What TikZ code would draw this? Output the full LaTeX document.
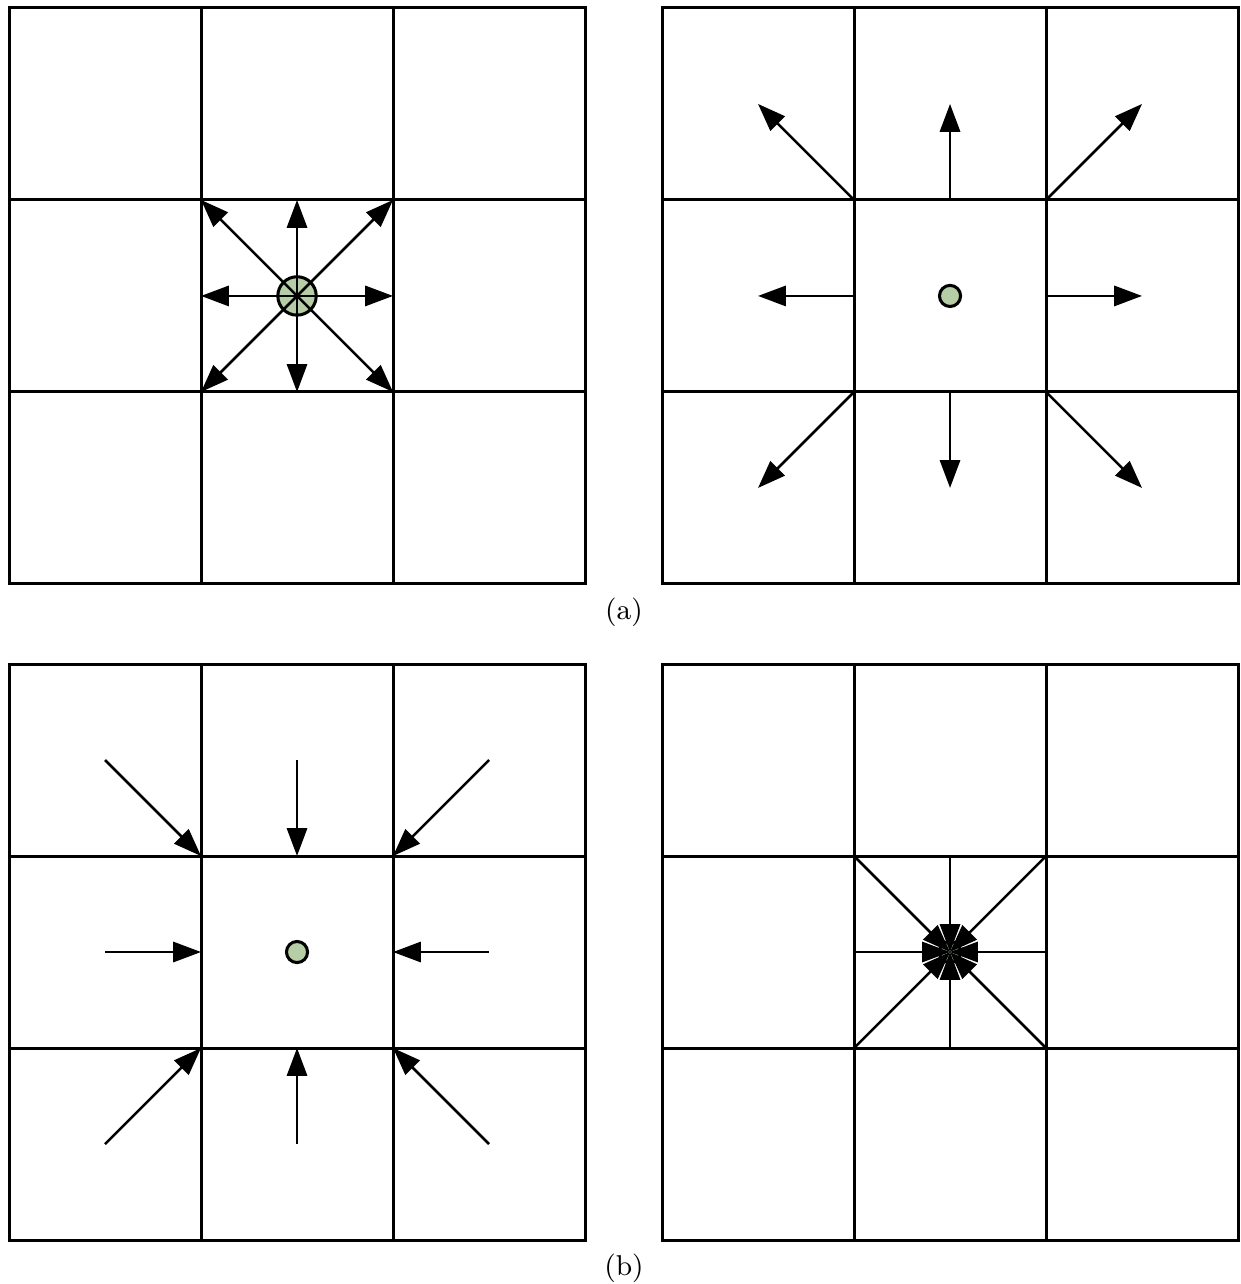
\documentclass[tikz,border=0pt]{standalone}
\usepackage{amsmath}
\usepackage{xcolor}
\usepackage{tikz}
\usetikzlibrary{arrows.meta, positioning, calc}

\definecolor{cellgreen}{RGB}{181,206,165}

\tikzset{
  gridline/.style={line width=0.9pt, line join=miter},
  flow/.style={line width=0.75pt, -{Triangle[length=2.9mm, width=2.1mm]}},
  bigdot/.style={circle, draw, line width=0.9pt, fill=cellgreen, minimum size=0.4cm, inner sep=0pt},
  smalldot/.style={circle, draw, line width=0.9pt, fill=cellgreen, minimum size=0.22cm, inner sep=0pt},
  caption/.style={font=\fontsize{8.5}{10}\selectfont}
}

% 3x3 board, 2cm cells
\newcommand{\board}{%
  \draw[gridline] (0,0) rectangle (6,6);
  \foreach \k in {2,4} {
    \draw[gridline] (\k,0) -- (\k,6);
    \draw[gridline] (0,\k) -- (6,\k);
  }%
}

\begin{document}
\begin{tikzpicture}
\useasboundingbox (0,0) rectangle (12.927,13.375);

% (a) left: spreading from the centre
\begin{scope}[shift={(0.094,7.292)}]
\board
\node[bigdot] (srcA) at (3,3) {};
\coordinate (midA) at (3,3);
\foreach \dx/\dy [count=\i] in {-1/-1,-1/0,-1/1,0/-1,0/1,1/-1,1/0,1/1} {
   \coordinate (tipA\i) at ($(midA)+(\dx,\dy)$);
   \draw[flow] (midA) -- (tipA\i);
}
\end{scope}

% (a) right: leaving the centre cell
\begin{scope}[shift={(6.896,7.292)}]
\board
\node[smalldot] (srcB) at (3,3) {};
\foreach \dx/\dy [count=\i] in {-1/-1,-1/0,-1/1,0/-1,0/1,1/-1,1/0,1/1} {
   \coordinate (baseB\i) at ($(srcB.center)+(\dx,\dy)$);
   \coordinate (tipB\i) at ($(srcB.center)+(2*\dx,2*\dy)$);
   \draw[flow] (baseB\i) -- (tipB\i);
}
\end{scope}

\node[caption] (capA) at (6.5,7.0) {(a)};

% (b) left: entering the centre cell
\begin{scope}[shift={(0.094,0.458)}]
\board
\node[smalldot] (srcC) at (3,3) {};
\foreach \dx/\dy [count=\i] in {-1/-1,-1/0,-1/1,0/-1,0/1,1/-1,1/0,1/1} {
   \coordinate (baseC\i) at ($(srcC.center)+(2*\dx,2*\dy)$);
   \coordinate (tipC\i) at ($(srcC.center)+(\dx,\dy)$);
   \draw[flow] (baseC\i) -- (tipC\i);
}
\end{scope}

% (b) right: gathering at the centre
\begin{scope}[shift={(6.896,0.458)}]
\board
\node[smalldot] (srcD) at (3,3) {};
\foreach \dx/\dy [count=\i] in {-1/-1,-1/0,-1/1,0/-1,0/1,1/-1,1/0,1/1} {
   \coordinate (baseD\i) at ($(srcD.center)+(\dx,\dy)$);
   \draw[flow] (baseD\i) -- (srcD.center);
}
\end{scope}

\node[caption] (capB) at (6.5,0.167) {(b)};
\end{tikzpicture}
\end{document}
